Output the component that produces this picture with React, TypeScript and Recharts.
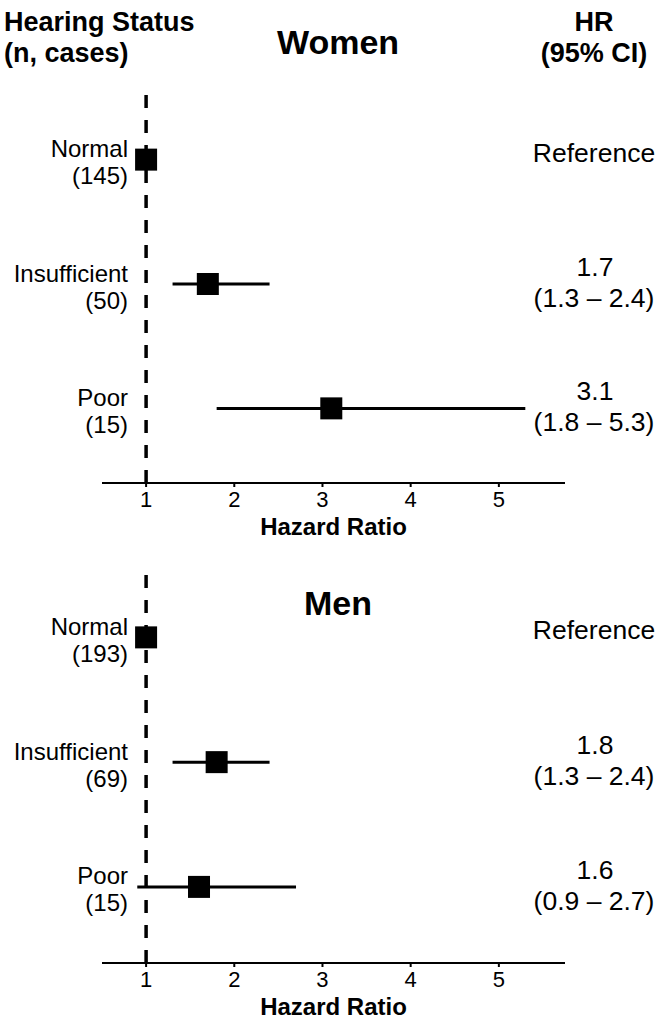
import { ScatterChart, Scatter, XAxis, YAxis, ErrorBar, ReferenceLine } from 'recharts'

// rows top to bottom
const statuses = ['Normal', 'Insufficient', 'Poor']
const rowPositions = [3, 2, 1]
const hrTicks = [1, 2, 3, 4, 5]

const womenCases = [145, 50, 15]
const womenHR = [1, 1.7, 3.1]
const womenLower = [1, 1.3, 1.8]
const womenUpper = [1, 2.4, 5.3]

const menCases = [193, 69, 15]
const menHR = [1, 1.8, 1.6]
const menLower = [1, 1.3, 0.9]
const menUpper = [1, 2.4, 2.7]

const FONT = '"Liberation Sans", Arial, Helvetica, sans-serif'

type Row = {
  status: string
  cases: number
  row: number
  hr: number
  lower: number
  upper: number
  ci: number[]
  isRef: boolean
}

const buildRows = (cases: number[], hr: number[], lower: number[], upper: number[]): Row[] =>
  statuses.map((status, i) => ({
    status,
    cases: cases[i],
    row: rowPositions[i],
    hr: hr[i],
    lower: lower[i],
    upper: upper[i],
    ci: [hr[i] - lower[i], upper[i] - hr[i]],
    isRef: i === 0,
  }))

const womenRows = buildRows(womenCases, womenHR, womenLower, womenUpper)
const menRows = buildRows(menCases, menHR, menLower, menUpper)

const fmt = (v: number) => v.toFixed(1)

const Square = (props: any) => {
  const { cx, cy } = props
  return <rect x={cx - 11} y={cy - 11} width={22} height={22} fill="#000" />
}

const LeftTick = (props: any) => {
  const { y, payload, rows } = props
  const r = rows.find((d: Row) => d.row === payload.value)
  if (!r) return null
  return (
    <g fontFamily={FONT} fontSize={24} fill="#000">
      <text x={128} y={y - 11} textAnchor="end" dominantBaseline="central">{r.status}</text>
      <text x={128} y={y + 16} textAnchor="end" dominantBaseline="central">({r.cases})</text>
    </g>
  )
}

const RightTick = (props: any) => {
  const { y, payload, rows } = props
  const r = rows.find((d: Row) => d.row === payload.value)
  if (!r) return null
  if (r.isRef) {
    return (
      <text x={594} y={y - 7} textAnchor="middle" dominantBaseline="central" fontFamily={FONT} fontSize={26.5} fill="#000">
        Reference
      </text>
    )
  }
  return (
    <g fontFamily={FONT} fontSize={26.5} fill="#000">
      <text x={595} y={y - 17} textAnchor="middle" dominantBaseline="central">{fmt(r.hr)}</text>
      <text x={594} y={y + 14} textAnchor="middle" dominantBaseline="central">
        ({fmt(r.lower)} – {fmt(r.upper)})
      </text>
    </g>
  )
}

function ForestPanel({ rows, height, top, yDomain }: { rows: Row[]; height: number; top: number; yDomain: number[] }) {
  return (
    <ScatterChart width={670} height={height} margin={{ top, right: 0, bottom: 0, left: 0 }}>
      <XAxis
        type="number"
        dataKey="hr"
        domain={[0.5, 5.75]}
        ticks={hrTicks}
        allowDataOverflow
        height={60}
        tickSize={4}
        tickMargin={4}
        stroke="#000"
        strokeWidth={2}
        tick={{ fill: '#000', fontSize: 22, fontFamily: FONT }}
        label={{
          value: 'Hazard Ratio',
          position: 'insideBottom',
          offset: 8,
          style: { fill: '#000', fontSize: 24, fontWeight: 'bold', fontFamily: FONT },
        }}
      />
      <YAxis
        yAxisId="left"
        type="number"
        dataKey="row"
        domain={yDomain}
        ticks={rowPositions}
        allowDataOverflow
        width={102}
        axisLine={false}
        tickLine={false}
        tick={(p: any) => <LeftTick {...p} rows={rows} />}
      />
      <YAxis
        yAxisId="right"
        orientation="right"
        type="number"
        domain={yDomain}
        ticks={rowPositions}
        allowDataOverflow
        width={105}
        axisLine={false}
        tickLine={false}
        tick={(p: any) => <RightTick {...p} rows={rows} />}
      />
      <ReferenceLine yAxisId="left" x={1} stroke="#000" strokeWidth={3.5} strokeDasharray="13 12" />
      <Scatter yAxisId="left" data={rows} shape={Square} isAnimationActive={false}>
        <ErrorBar dataKey="ci" direction="x" width={0} stroke="#000" strokeWidth={3} />
      </Scatter>
    </ScatterChart>
  )
}

const textBase: React.CSSProperties = {
  position: 'absolute',
  fontFamily: FONT,
  color: '#000',
  whiteSpace: 'nowrap',
  lineHeight: '30px',
}

export default function App() {
  return (
    <div style={{ position: 'absolute', left: 0, top: 0, width: 670, height: 1023, background: '#fff' }}>
      <div style={{ position: 'absolute', left: 0, top: 0 }}>
        <ForestPanel rows={womenRows} height={543} top={85} yDomain={[0.4, 3.6]} />
      </div>
      <div style={{ position: 'absolute', left: 0, top: 543 }}>
        <ForestPanel rows={menRows} height={480} top={32} yDomain={[0.39, 3.5]} />
      </div>

      <div style={{ ...textBase, left: 4, top: 7, fontSize: 27, fontWeight: 'bold' }}>Hearing Status</div>
      <div style={{ ...textBase, left: 4, top: 38, fontSize: 27, fontWeight: 'bold' }}>(n, cases)</div>
      <div style={{ ...textBase, left: 519, width: 150, textAlign: 'center', top: 7, fontSize: 27, fontWeight: 'bold' }}>HR</div>
      <div style={{ ...textBase, left: 519, width: 150, textAlign: 'center', top: 38, fontSize: 27, fontWeight: 'bold' }}>(95% CI)</div>

      <div style={{ ...textBase, left: 238, width: 200, textAlign: 'center', top: 27, fontSize: 34, fontWeight: 'bold' }}>Women</div>
      <div style={{ ...textBase, left: 238, width: 200, textAlign: 'center', top: 588, fontSize: 34, fontWeight: 'bold' }}>Men</div>
    </div>
  )
}
